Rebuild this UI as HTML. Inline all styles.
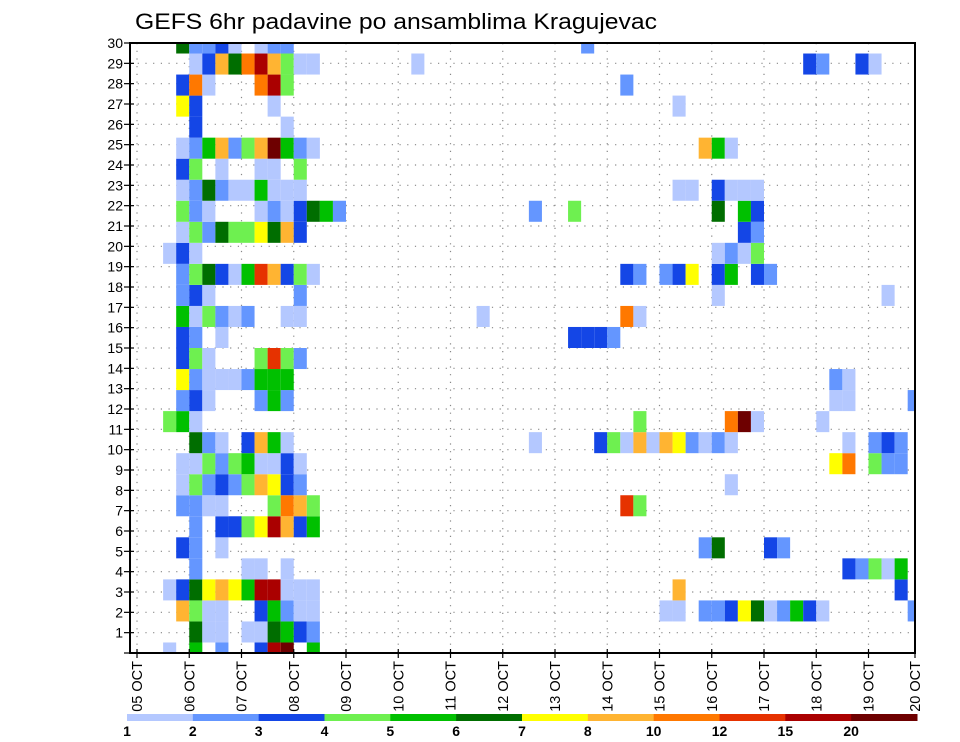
<!DOCTYPE html>
<html><head><meta charset="utf-8"><title>GEFS 6hr padavine</title>
<style>
html,body{margin:0;padding:0;background:#fff;}
svg{display:block;font-family:"Liberation Sans","DejaVu Sans",sans-serif;}
</style></head>
<body>
<svg id="chart" width="960" height="742" viewBox="0 0 960 742" xmlns="http://www.w3.org/2000/svg">
<text x="135" y="29" font-size="22" textLength="522" lengthAdjust="spacingAndGlyphs" fill="#000">GEFS 6hr padavine po ansamblima Kragujevac</text>
<g id="grid"></g>
<g id="cells"></g>
<g id="axes"></g>
<g id="legend"></g>
</svg>
<script>
// ---- data ----
const dayLabels = ["05 OCT","06 OCT","07 OCT","08 OCT","09 OCT","10 OCT","11 OCT","12 OCT","13 OCT","14 OCT","15 OCT","16 OCT","17 OCT","18 OCT","19 OCT","20 OCT"];
const memberTicks = [1,2,3,4,5,6,7,8,9,10,11,12,13,14,15,16,17,18,19,20,21,22,23,24,25,26,27,28,29,30];
const levelBounds = [1,2,3,4,5,6,7,8,10,12,15,20];
const levelColors = ["#b4c8ff","#6496ff","#1446e6","#6ef050","#00c000","#006e00","#ffff00","#ffb432","#ff7800","#e63200","#aa0000","#6e0000"];
// precip per member (index 0 = member 1), tokens "step:mm" (6h step from 05 OCT 00Z)
const precip = [
"2:1.5 4:5.5 6:2.5 9:3.5 10:17.5 11:25 13:5.5",
"4:6.5 5:1.5 6:1.5 8:1.5 9:1.5 10:6.5 11:5.5 12:3.5 13:2.5",
"3:9 4:4.5 5:1.5 6:1.5 9:3.5 10:5.5 11:2.5 12:1.5 13:1.5 40:1.5 41:1.5 43:2.5 44:2.5 45:3.5 46:7.5 47:6.5 48:1.5 49:2.5 50:5.5 51:3.5 52:1.5 59:2.5",
"2:1.5 3:3.5 4:6.5 5:7.5 6:9 7:7.5 8:5.5 9:17.5 10:17.5 11:1.5 12:1.5 13:1.5 41:9 58:3.5",
"4:2.5 8:1.5 9:1.5 11:1.5 54:3.5 55:2.5 56:4.5 57:1.5 58:5.5",
"3:3.5 4:2.5 6:1.5 43:2.5 44:6.5 48:3.5 49:2.5",
"4:2.5 6:3.5 7:3.5 8:4.5 9:7.5 10:17.5 11:9 12:3.5 13:5.5",
"3:2.5 4:2.5 5:1.5 6:1.5 10:4.5 11:11 12:9 13:4.5 37:13.5 38:4.5",
"3:1.5 4:4.5 5:2.5 6:3.5 7:2.5 8:4.5 9:9 10:7.5 11:3.5 12:2.5 45:1.5",
"3:1.5 4:1.5 5:4.5 6:2.5 7:4.5 8:5.5 9:1.5 10:1.5 11:3.5 12:1.5 53:7.5 54:11 56:4.5 57:2.5 58:2.5",
"4:6.5 5:2.5 6:1.5 8:3.5 9:9 10:5.5 11:1.5 30:1.5 35:3.5 36:4.5 37:1.5 38:9 39:1.5 40:9 41:7.5 42:2.5 43:1.5 44:2.5 45:1.5 54:1.5 56:2.5 57:3.5 58:2.5",
"2:4.5 3:5.5 4:1.5 38:4.5 45:11 46:25 47:1.5 52:1.5",
"3:2.5 4:3.5 5:1.5 9:2.5 10:5.5 11:2.5 53:1.5 54:1.5 59:2.5",
"3:7.5 4:2.5 5:1.5 6:1.5 7:1.5 8:2.5 9:5.5 10:5.5 11:5.5 53:2.5 54:1.5",
"3:3.5 4:4.5 5:1.5 9:4.5 10:13.5 11:4.5 12:2.5",
"3:3.5 4:2.5 6:1.5 33:3.5 34:3.5 35:3.5 36:2.5",
"3:5.5 4:1.5 5:4.5 6:2.5 7:1.5 8:2.5 11:1.5 12:1.5 26:1.5 37:11 38:1.5",
"3:2.5 4:3.5 5:1.5 12:2.5 44:1.5 57:1.5",
"3:2.5 4:4.5 5:6.5 6:3.5 7:1.5 8:5.5 9:13.5 10:9 11:3.5 12:4.5 13:1.5 37:3.5 38:2.5 40:2.5 41:3.5 42:7.5 44:3.5 45:5.5 47:3.5 48:2.5",
"2:1.5 3:3.5 4:1.5 44:1.5 45:2.5 46:1.5 47:4.5",
"3:1.5 4:4.5 5:2.5 6:6.5 7:4.5 8:4.5 9:7.5 10:6.5 11:9 12:3.5 46:3.5 47:2.5",
"3:4.5 4:2.5 5:1.5 9:1.5 10:2.5 11:1.5 12:3.5 13:6.5 14:5.5 15:2.5 30:2.5 33:4.5 44:6.5 46:5.5 47:3.5",
"3:1.5 4:2.5 5:6.5 6:2.5 7:1.5 8:1.5 9:5.5 10:1.5 11:1.5 12:1.5 41:1.5 42:1.5 44:3.5 45:1.5 46:1.5 47:1.5",
"3:3.5 4:4.5 6:1.5 9:1.5 10:1.5 12:4.5",
"3:1.5 4:2.5 5:5.5 6:9 7:2.5 8:4.5 9:9 10:25 11:5.5 12:2.5 13:1.5 43:9 44:5.5 45:1.5",
"4:3.5 11:1.5",
"3:7.5 4:3.5 10:1.5 41:1.5",
"3:3.5 4:11 5:1.5 9:11 10:17.5 11:4.5 37:2.5",
"4:1.5 5:3.5 6:9 7:6.5 8:11 9:17.5 10:9 11:4.5 12:1.5 13:1.5 21:1.5 51:3.5 52:2.5 55:3.5 56:1.5",
"3:6.5 4:2.5 5:2.5 6:3.5 7:1.5 9:1.5 10:2.5 11:2.5 34:2.5"
];

// ---- layout ----
const NS = "http://www.w3.org/2000/svg";
const L = 130, R = 915, T = 43, B = 653;
const X0 = 137, DAYW = 52.25, STEPW = DAYW / 4;
const NMEM = 30;
const memH = (B - T) / (NMEM - 1);
function xStep(s){ return X0 + s * STEPW; }
function xDay(d){ return d === 15 ? R : X0 + d * DAYW; }
function yMember(m){ return B - (m - 1) * memH; }
function yTick(v){ return B - v * (B - T) / 30; }
function colorFor(v){
  let idx = -1;
  for (let i = 0; i < levelBounds.length; i++) if (v >= levelBounds[i]) idx = i;
  return idx < 0 ? null : levelColors[idx];
}
function mk(tag, attrs, parent){
  const e = document.createElementNS(NS, tag);
  for (const k in attrs) e.setAttribute(k, attrs[k]);
  parent.appendChild(e);
  return e;
}

// grid
const grid = document.getElementById("grid");
for (let v = 1; v <= 30; v++) {
  const ln = mk("line", {x1:L, x2:R, y1:yTick(v), y2:yTick(v), stroke:"#888", "stroke-width":1.2, "stroke-dasharray":"1.2,6.5"}, grid);
  
  
}
for (let d = 0; d < 15; d++) {
  const ln = mk("line", {x1:xDay(d), x2:xDay(d), y1:T, y2:B, stroke:"#888", "stroke-width":1.2, "stroke-dasharray":"1.2,6.5"}, grid);
  
  
}

// cells
const cells = document.getElementById("cells");
precip.forEach((row, mi) => {
  const m = mi + 1;
  row.trim().split(/\s+/).forEach(tok => {
    const parts = tok.split(":");
    const s = +parts[0], v = +parts[1];
    const c = colorFor(v);
    if (!c) return;
    let x1 = xStep(s), x2 = xStep(s + 1);
    let y1 = yMember(m) - memH / 2, y2 = yMember(m) + memH / 2;
    x1 = Math.max(x1, L); x2 = Math.min(x2, R);
    y1 = Math.max(y1, T); y2 = Math.min(y2, B);
    if (x2 <= x1 || y2 <= y1) return;
    const r = mk("rect", {x:x1, y:y1, width:x2 - x1, height:y2 - y1, fill:c}, cells);
    
    
  });
});

// axes
const axes = document.getElementById("axes");
const frame = mk("rect", {x:L, y:T, width:R - L, height:B - T, fill:"none", stroke:"#000", "stroke-width":2}, axes);


for (let v = 0; v <= 30; v++) {
  const tk = mk("line", {x1:L - 6, x2:L + 4, y1:yTick(v), y2:yTick(v), stroke:"#000", "stroke-width":1.2}, axes);
  
  
}
memberTicks.forEach(v => {
  const t = mk("text", {x:L - 7, y:yTick(v) + 5, "font-size":14, "text-anchor":"end", fill:"#000"}, axes);
  
  
  t.textContent = String(v);
});
dayLabels.forEach((lab, d) => {
  const x = xDay(d);
  const tk = mk("line", {x1:x, x2:x, y1:B - 4, y2:B + 5, stroke:"#000", "stroke-width":1.2}, axes);
  
  
  const t = mk("text", {x:0, y:0, "font-size":14.5, "text-anchor":"end", fill:"#000", transform:"translate(" + (x + 5) + "," + (B + 8) + ") rotate(-90)"}, axes);
  
  
  t.textContent = lab;
});

// colorbar
const legend = document.getElementById("legend");
const CB0 = 127, CB1 = 917, CBY = 714, CBH = 7;
const segW = (CB1 - CB0) / levelColors.length;
levelColors.forEach((c, i) => {
  const r = mk("rect", {x:CB0 + i * segW, y:CBY, width:segW + 0.5, height:CBH, fill:c}, legend);
  
  
});
levelBounds.forEach((b, i) => {
  const t = mk("text", {x:CB0 + i * segW, y:736, "font-size":14, "font-weight":"bold", "text-anchor":"middle", fill:"#000"}, legend);
  
  
  t.textContent = String(b);
});
</script>
</body></html>
